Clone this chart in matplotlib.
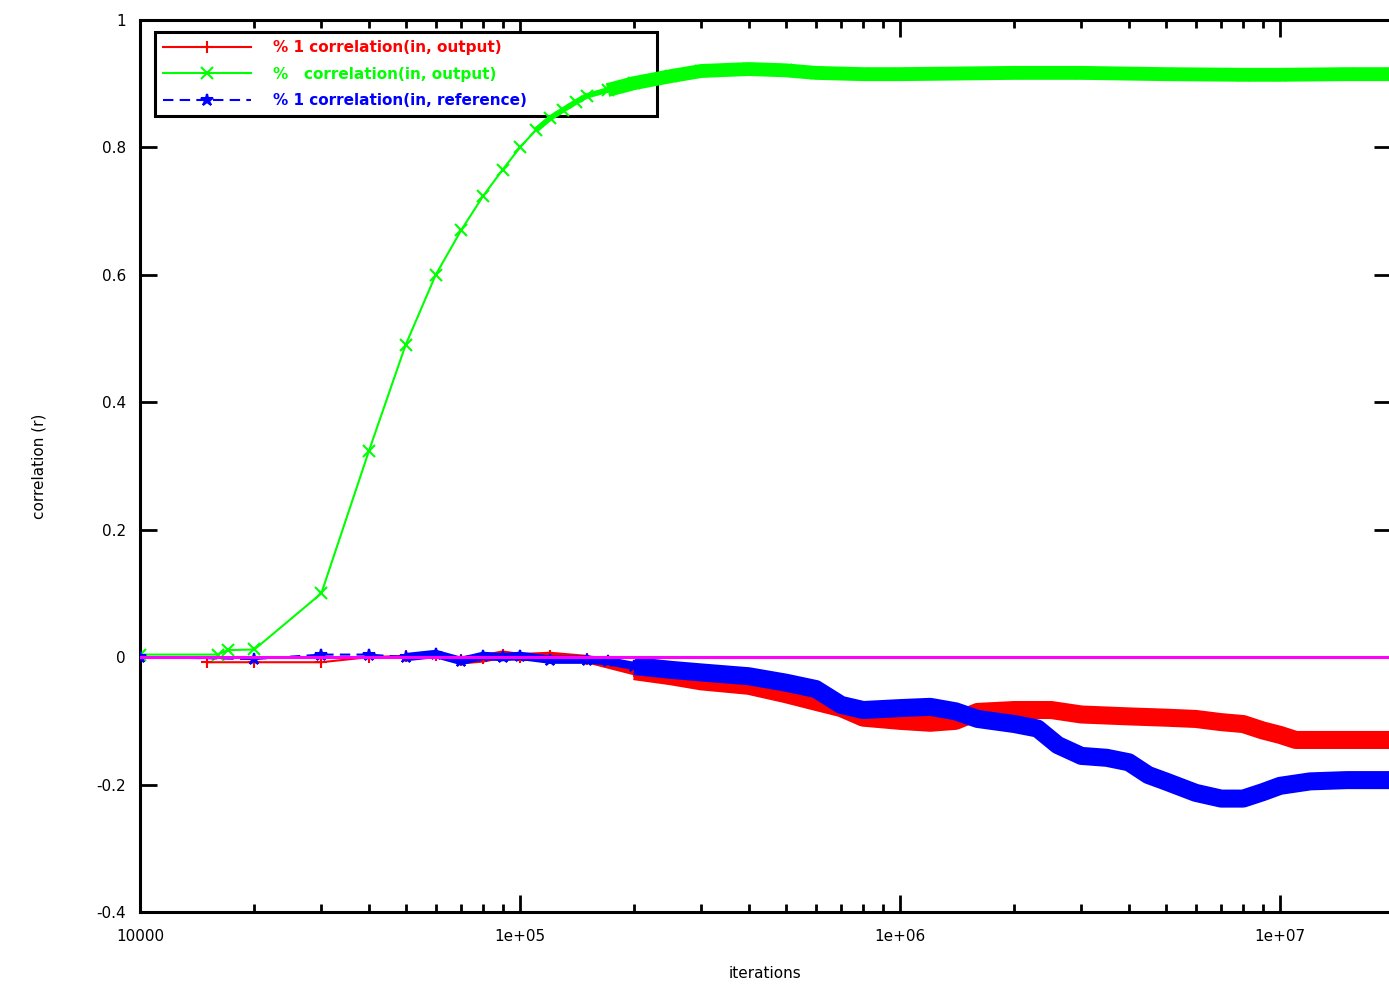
import matplotlib
matplotlib.use("Agg")
import matplotlib.pyplot as plt
from matplotlib.ticker import FixedLocator, FixedFormatter, LogLocator, NullFormatter

# values (x on a log scale)
red_x = [1.5e4, 2e4, 3e4, 4e4, 5e4, 6e4, 7e4, 8e4, 9e4, 1e5, 1.2e5, 1.5e5,
         2e5, 2.5e5, 3e5, 4e5, 5e5, 6e5, 7e5, 8e5, 1e6, 1.2e6, 1.4e6, 1.6e6,
         2e6, 2.5e6, 3e6, 4e6, 5e6, 6e6, 7e6, 8e6, 9e6, 1e7, 1.1e7, 1.5e7, 1.95e7]
red_y = [-0.008, -0.008, -0.008, 0.0, 0.002, 0.003, -0.005, -0.002, 0.004, 0.0, 0.002, -0.003,
         -0.022, -0.03, -0.038, -0.045, -0.058, -0.07, -0.08, -0.095, -0.1, -0.103, -0.1, -0.086,
         -0.083, -0.083, -0.09, -0.093, -0.095, -0.097, -0.102, -0.105, -0.115, -0.122, -0.13, -0.13, -0.13]

green_x = [1e4, 1.6e4, 1.7e4, 2e4, 3e4, 4e4, 5e4, 6e4, 7e4, 8e4, 9e4, 1e5,
           1.1e5, 1.2e5, 1.3e5, 1.4e5, 1.5e5, 1.7e5, 2e5, 2.5e5, 3e5, 4e5, 5e5, 6e5,
           8e5, 1e6, 2e6, 3e6, 5e6, 8e6, 1e7, 1.5e7, 1.95e7]
green_y = [0.004, 0.004, 0.011, 0.012, 0.10, 0.323, 0.49, 0.60, 0.67, 0.724, 0.765, 0.80,
           0.827, 0.846, 0.859, 0.871, 0.881, 0.89, 0.901, 0.912, 0.92, 0.923, 0.921, 0.917,
           0.915, 0.915, 0.917, 0.917, 0.915, 0.914, 0.914, 0.915, 0.915]

blue_x = [1e4, 2e4, 3e4, 4e4, 5e4, 6e4, 7e4, 8e4, 9e4, 1e5, 1.2e5, 1.5e5, 1.7e5,
          2e5, 2.5e5, 3e5, 4e5, 5e5, 6e5, 7e5, 8e5, 1e6, 1.2e6, 1.4e6, 1.6e6,
          2e6, 2.3e6, 2.6e6, 3e6, 3.5e6, 4e6, 4.5e6, 5e6, 6e6, 7e6, 8e6, 9e6,
          1e7, 1.2e7, 1.5e7, 1.95e7]
blue_y = [0.0, -0.003, 0.004, 0.004, 0.0, 0.005, -0.006, 0.002, 0.0, 0.002, -0.004, -0.004, -0.006,
          -0.014, -0.02, -0.024, -0.03, -0.04, -0.05, -0.075, -0.083, -0.08, -0.078, -0.085, -0.097,
          -0.105, -0.112, -0.138, -0.155, -0.158, -0.165, -0.185, -0.195, -0.213, -0.222, -0.222, -0.212,
          -0.202, -0.195, -0.193, -0.193]

labels = ["% 1 correlation(in, output)", "%   correlation(in, output)",
          "% 1 correlation(in, reference)"]
xtick_vals = [1e4, 1e5, 1e6, 1e7]
xtick_labels = ["10000", "1e+05", "1e+06", "1e+07"]
ytick_vals = [-0.4, -0.2, 0, 0.2, 0.4, 0.6, 0.8, 1]
ytick_labels = ["-0.4", "-0.2", "0", "0.2", "0.4", "0.6", "0.8", "1"]

fig = plt.figure(figsize=(13.89, 9.99), dpi=100)
ax = fig.add_axes([140 / 1389, 1 - 912 / 999, 1251 / 1389, 892 / 999])
ax.set_xscale("log")


def draw(xs, ys, color, marker, ls, lab, start, lw_band, mid, lw_mid):
    line, = ax.plot(xs, ys, color=color, ls=ls, lw=1.5, marker=marker, ms=9, mew=1.5,
                    label=lab, zorder=3)
    ax.plot(xs[mid:start + 1], ys[mid:start + 1], color=color, lw=lw_mid,
            solid_capstyle="butt", zorder=3)
    ax.plot(xs[start:], ys[start:], color=color, lw=lw_band, solid_capstyle="butt", zorder=3)
    return line


h1 = draw(red_x, red_y, "#ff0000", "+", "-", labels[0], 12, 13, 6, 6)
h2 = draw(green_x, green_y, "#00ff00", "x", "-", labels[1], 17, 10, 12, 4)
h3 = draw(blue_x, blue_y, "#0000ff", "*", (0, (5, 3)), labels[2], 13, 13, 4, 6)
ax.axhline(0, color="#ff00ff", lw=2.2, zorder=3)

ax.set_xlim(1e4, 1.959e7)
ax.set_ylim(-0.4, 1)
ax.xaxis.set_major_locator(FixedLocator(xtick_vals))
ax.xaxis.set_major_formatter(FixedFormatter(xtick_labels))
ax.xaxis.set_minor_locator(LogLocator(base=10, subs=range(2, 10)))
ax.xaxis.set_minor_formatter(NullFormatter())
ax.set_yticks(ytick_vals)
ax.set_yticklabels(ytick_labels)
ax.tick_params(which="both", direction="in", top=True, right=True, width=2, labelsize=11)
ax.tick_params(which="major", length=12)
ax.tick_params(which="minor", length=6)
ax.tick_params(axis="y", pad=10)
ax.tick_params(axis="x", pad=12)
for s in ax.spines.values():
    s.set_linewidth(2.2)

ax.set_xlabel("iterations", fontsize=11, labelpad=16)
ax.set_ylabel("correlation (r)", fontsize=11, labelpad=36)

leg = ax.legend(handles=[h1, h2, h3], loc="upper left",
                bbox_to_anchor=(0.012, 0.891, 0.401, 0.095), mode="expand",
                fancybox=False, framealpha=1, edgecolor="black", fontsize=11,
                labelcolor="linecolor", handlelength=5.8, handletextpad=1.4,
                borderpad=0.5, labelspacing=0.75, borderaxespad=0)
leg.get_frame().set_linewidth(2.2)
leg.set_zorder(2)
for t in leg.get_texts():
    t.set_fontweight("bold")

fig.savefig("out.png", dpi=100)
